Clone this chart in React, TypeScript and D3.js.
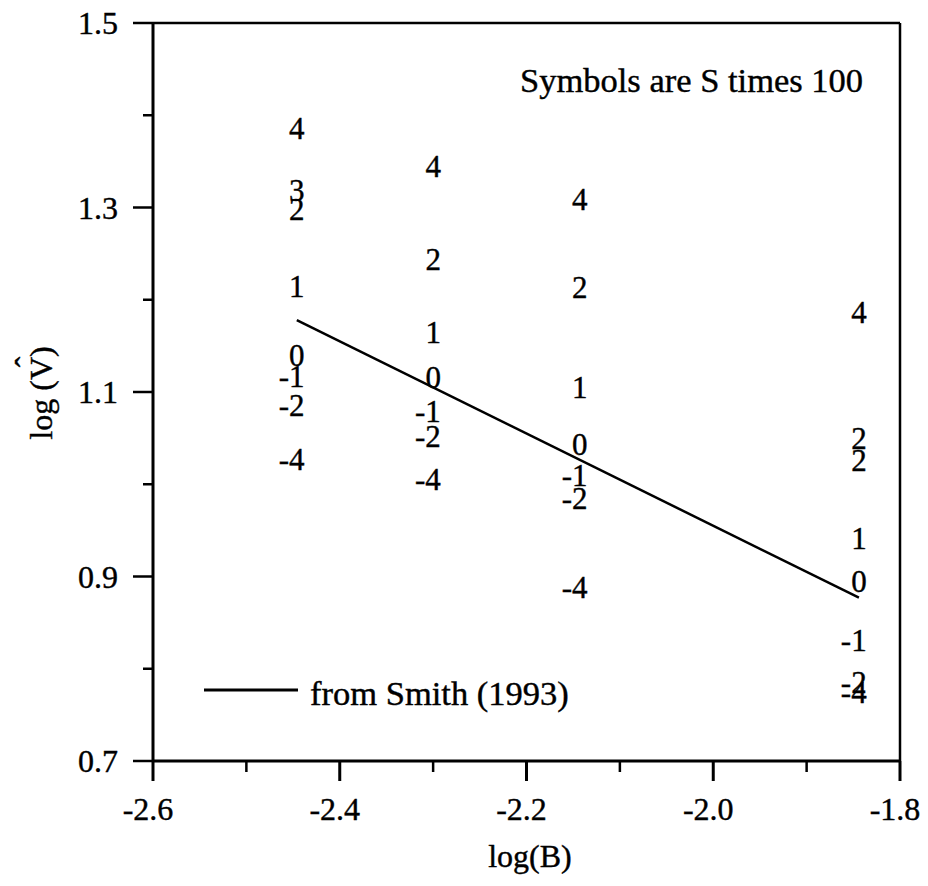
import React from "react";
import * as d3 from "d3";

// ---- data ----
const xDomain = [-2.6, -1.8];
const yDomain = [0.7, 1.5];
const xMajorTicks = [-2.6, -2.4, -2.2, -2.0, -1.8];
const xMinorTicks = [-2.5, -2.3, -2.1, -1.9];
const yMajorTicks = [0.7, 0.9, 1.1, 1.3, 1.5];
const yMinorTicks = [0.8, 1.0, 1.2, 1.4];

const columnX = [-2.446, -2.3, -2.143, -1.844];
const col1Labels = ["4", "3", "2", "1", "0", "-1", "-2", "-4"];
const col1Values = [1.386, 1.318, 1.298, 1.214, 1.14, 1.117, 1.085, 1.027];
const col2Labels = ["4", "2", "1", "0", "-1", "-2", "-4"];
const col2Values = [1.344, 1.244, 1.164, 1.116, 1.079, 1.052, 1.005];
const col3Labels = ["4", "2", "1", "0", "-1", "-2", "-4"];
const col3Values = [1.309, 1.213, 1.105, 1.043, 1.01, 0.985, 0.888];
const col4Labels = ["4", "2", "2", "1", "0", "-1", "-2", "-4"];
const col4Values = [1.186, 1.05, 1.026, 0.941, 0.895, 0.831, 0.785, 0.774];

const smithX = [-2.446, -1.844];
const smithY = [1.178, 0.877];

const W = 928;
const H = 886;
const FONT = "'Liberation Serif', 'Times New Roman', serif";

export default function App() {
  const x = d3.scaleLinear().domain(xDomain).range([153, 900]);
  const y = d3.scaleLinear().domain(yDomain).range([761, 23]);

  const columns = [
    { cx: columnX[0], labels: col1Labels, values: col1Values },
    { cx: columnX[1], labels: col2Labels, values: col2Values },
    { cx: columnX[2], labels: col3Labels, values: col3Values },
    { cx: columnX[3], labels: col4Labels, values: col4Values },
  ];

  const line = d3
    .line<number>()
    .x((_, i) => x(smithX[i]))
    .y((d) => y(d));

  const symSize = 31;
  const tickSize = 32;
  const ts = { stroke: "#000", strokeWidth: 0.4 };

  return (
    <svg
      width={W}
      height={H}
      style={{ position: "absolute", left: 0, top: 0, background: "#fff" }}
      fontFamily={FONT}
    >
      <rect x={0} y={0} width={W} height={H} fill="#fff" />
      {/* frame */}
      <line x1={x(xDomain[0])} x2={x(xDomain[1])} y1={y(yDomain[1])} y2={y(yDomain[1])} stroke="#000" strokeWidth={2.5} />
      <line x1={x(xDomain[1])} x2={x(xDomain[1])} y1={y(yDomain[1])} y2={y(yDomain[0])} stroke="#000" strokeWidth={2.5} />
      <line x1={x(xDomain[0])} x2={x(xDomain[1])} y1={y(yDomain[0])} y2={y(yDomain[0])} stroke="#000" strokeWidth={3} />
      <line x1={x(xDomain[0])} x2={x(xDomain[0])} y1={y(yDomain[1])} y2={y(yDomain[0])} stroke="#000" strokeWidth={3} />

      {/* x ticks */}
      {xMajorTicks.map((t) => (
        <g key={"xm" + t}>
          <line x1={x(t)} x2={x(t)} y1={y(yDomain[0])} y2={y(yDomain[0]) + 20} stroke="#000" strokeWidth={3} />
          <text x={x(t) - 5} y={820} textAnchor="middle" fontSize={tickSize} fill="#000" {...ts}>
            {t.toFixed(1)}
          </text>
        </g>
      ))}
      {xMinorTicks.map((t) => (
        <line key={"xn" + t} x1={x(t)} x2={x(t)} y1={y(yDomain[0])} y2={y(yDomain[0]) + 11} stroke="#000" strokeWidth={2.5} />
      ))}

      {/* y ticks */}
      {yMajorTicks.map((t) => (
        <g key={"ym" + t}>
          <line x1={x(xDomain[0]) - 20} x2={x(xDomain[0])} y1={y(t)} y2={y(t)} stroke="#000" strokeWidth={2.5} />
          <text x={118} y={y(t) + 11} textAnchor="end" fontSize={tickSize} fill="#000" {...ts}>
            {t.toFixed(1)}
          </text>
        </g>
      ))}
      {yMinorTicks.map((t) => (
        <line key={"yn" + t} x1={x(xDomain[0]) - 10} x2={x(xDomain[0])} y1={y(t)} y2={y(t)} stroke="#000" strokeWidth={2.5} />
      ))}

      {/* axis titles */}
      <text x={530} y={867} textAnchor="middle" fontSize={tickSize} fill="#000" {...ts}>
        log(B)
      </text>
      <g transform="translate(52,393) rotate(-90)">
        <text x={0} y={0} textAnchor="middle" fontSize={tickSize} fill="#000" {...ts}>
          log (V)
        </text>
        <text x={31} y={-15} textAnchor="middle" fontSize={tickSize} fill="#000" {...ts}>
          ˆ
        </text>
      </g>

      {/* annotation */}
      <text x={520} y={92} fontSize={34.5} fill="#000" {...ts}>
        Symbols are S times 100
      </text>

      {/* Smith line */}
      <path d={line(smithY) || ""} fill="none" stroke="#000" strokeWidth={2.5} />

      {/* symbols */}
      {columns.map((c, ci) =>
        c.labels.map((lab, i) => (
          <text
            key={ci + "-" + i}
            x={x(c.cx) + 0.25 * symSize}
            y={y(c.values[i]) + 0.338 * symSize}
            textAnchor="end"
            fontSize={symSize}
            fill="#000"
            {...ts}
          >
            {lab}
          </text>
        ))
      )}

      {/* legend */}
      <line x1={204} x2={298} y1={690} y2={690} stroke="#000" strokeWidth={3} />
      <text x={310} y={705} fontSize={34.5} fill="#000" {...ts}>
        from Smith (1993)
      </text>
    </svg>
  );
}
